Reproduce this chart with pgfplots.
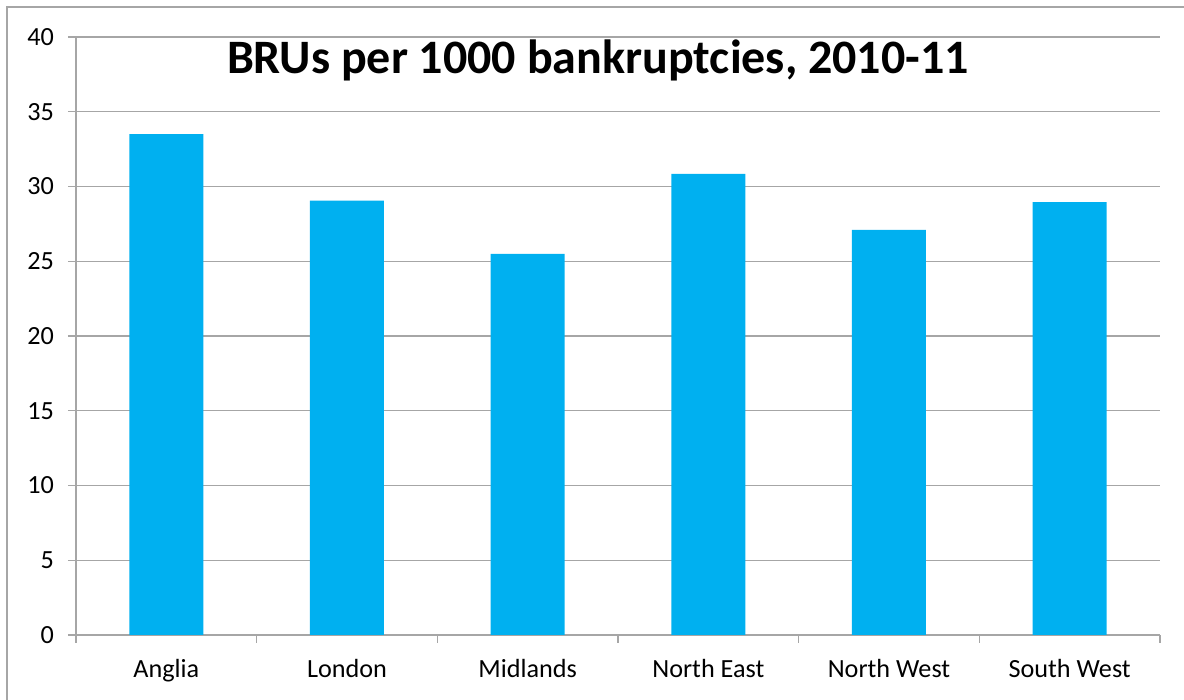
\documentclass[border=0pt]{standalone}
\usepackage{pgfplots}
\pgfplotsset{compat=1.18}
\usepackage{fontspec}
\setmainfont{Carlito}
\definecolor{barblue}{HTML}{00B0F0}
\definecolor{gridgray}{HTML}{A6A6A6}
\begin{document}
\begin{tikzpicture}
\clip (-38pt,-32.5pt) rectangle (554pt,317.5pt);
\draw[gridgray, line width=0.7pt] (-34.5pt,-60pt) rectangle (600pt,314pt);
\begin{axis}[
  at={(0pt,0pt)}, anchor=south west,
  scale only axis, width=542pt, height=299pt,
  xmin=-0.5, xmax=5.5, ymin=0, ymax=40,
  axis x line*=bottom, axis y line*=left,
  axis line style={gridgray, line width=0.7pt},
  xtick={0,1,2,3,4,5},
  xticklabels={Anglia,London,Midlands,North East,North West,South West},
  minor xtick={-0.5,0.5,1.5,2.5,3.5,4.5,5.5},
  major x tick style={draw=none},
  minor x tick style={gridgray, line width=0.7pt},
  ytick={0,5,...,40},
  ytick style={gridgray, line width=0.7pt},
  tick align=outside,
  major tick length=4pt, minor tick length=4pt,
  ymajorgrids, grid style={gridgray, line width=0.7pt},
  /pgf/number format/assume math mode=true,
  ticklabel style={font=\fontsize{13.1}{15}\selectfont, text=black},
  yticklabel style={xshift=-3.5pt},
  xticklabel style={yshift=-4.5pt},
  ybar, bar width=37pt,
  clip=false,
]
\addplot[fill=barblue, draw=none] coordinates {(0,33.5) (1,29.05) (2,25.5) (3,30.85) (4,27.1) (5,28.95)};
\node[font=\fontsize{24}{28}\bfseries\selectfont] at (rel axis cs:0.4815,0.9615) {BRUs per 1000 bankruptcies, 2010-11};
\end{axis}
\end{tikzpicture}
\end{document}
